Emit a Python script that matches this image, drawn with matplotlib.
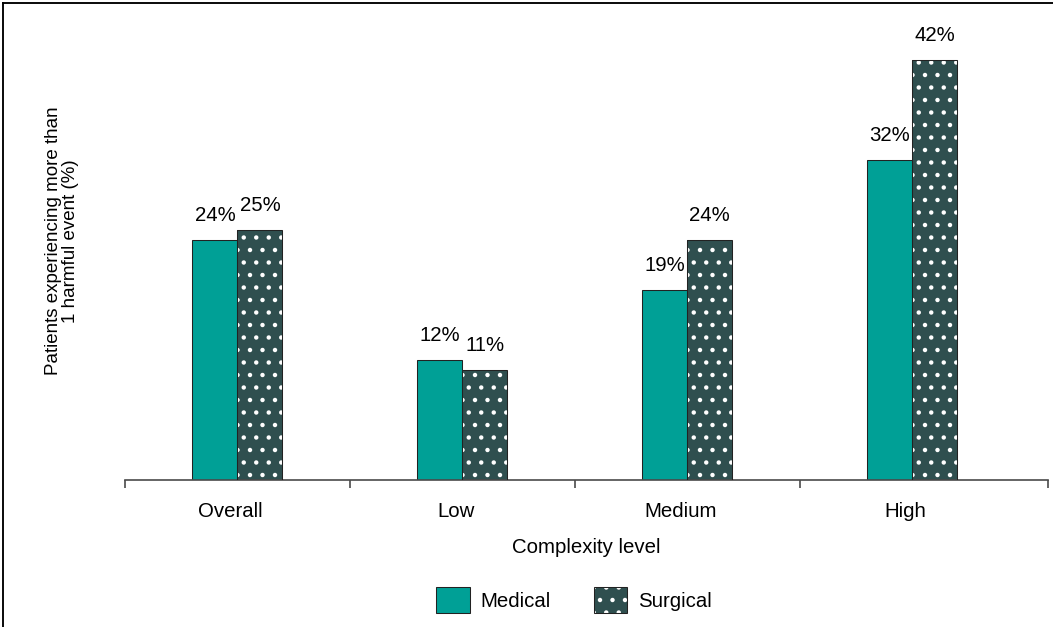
import matplotlib.pyplot as plt
from matplotlib.patches import Patch
from matplotlib.legend_handler import HandlerTuple
from matplotlib.lines import Line2D

plt.rcParams['font.family'] = ['Liberation Sans', 'DejaVu Sans']
plt.rcParams['hatch.linewidth'] = 1.8

# Data
categories = ['Overall', 'Low', 'Medium', 'High']
medical = [24, 12, 19, 32]
surgical = [25, 11, 24, 42]
series_names = ['Medical', 'Surgical']

teal = '#00A096'
slate = '#2F4F4F'
edge = '#222222'
axis_grey = '#4a4a4a'

DPI = 75
W, H = 1053, 627
fig = plt.figure(figsize=(W / DPI, H / DPI), dpi=DPI)
ax = fig.add_axes([125 / W, 147 / H, (1048 - 125) / W, (617 - 147) / H])

x = list(range(len(categories)))
bw = 0.2
xm = [i - bw / 2 for i in x]
xs = [i + bw / 2 for i in x]

ax.bar(xm, medical, width=bw, color=teal, edgecolor=edge, linewidth=1.0, zorder=2)
# dotted fill first, then outline on top so the dots stay white
ax.bar(xs, surgical, width=bw, color=slate, edgecolor='white', hatch='.', linewidth=0, zorder=2)
ax.bar(xs, surgical, width=bw, fill=False, edgecolor=edge, linewidth=1.0, zorder=3)

fs = 19.5
for xi, v in zip(xm, medical):
    ax.annotate(f'{v}%', (xi, v), xytext=(0, 14), textcoords='offset points',
                ha='center', va='bottom', fontsize=fs)
for xi, v in zip(xs, surgical):
    ax.annotate(f'{v}%', (xi, v), xytext=(0, 14), textcoords='offset points',
                ha='center', va='bottom', fontsize=fs)

right = (1048 - 237) / 225
ax.set_xlim(-0.5, right)
ax.set_ylim(0, 47)

for s in ['top', 'right', 'left']:
    ax.spines[s].set_visible(False)
ax.spines['bottom'].set_color(axis_grey)
ax.spines['bottom'].set_linewidth(1.6)
ax.set_yticks([])

ax.set_xticks([i - 0.03 for i in x])
ax.set_xticklabels(categories, fontsize=fs)
ax.tick_params(axis='x', which='major', length=0, pad=21)
ax.set_xticks([-0.5, 0.5, 1.5, 2.5, right], minor=True)
ax.tick_params(axis='x', which='minor', length=8, width=1.6, color=axis_grey, direction='out')

ax.set_xlabel('Complexity level', fontsize=fs, labelpad=16)
fig.text(62 / W, 1 - 241 / H, 'Patients experiencing more than\n1 harmful event (%)',
         rotation=90, ha='center', va='center', fontsize=18, linespacing=1.05)

# Legend
h_med = Patch(facecolor=teal, edgecolor=edge, linewidth=1.0)
h_sur = (Patch(facecolor=slate, edgecolor='white', hatch='.', linewidth=0),
         Patch(fill=False, edgecolor=edge, linewidth=1.0))
fig.legend([h_med, h_sur], series_names, loc='center', ncol=2,
           bbox_to_anchor=(574 / W, 1 - 600 / H), frameon=False, fontsize=fs,
           handlelength=1.65, handleheight=1.65, handletextpad=0.55, columnspacing=2.1,
           handler_map={tuple: HandlerTuple(ndivide=1, pad=0)})

# frame lines along the left and top edges
fig.add_artist(Line2D([3 / W, 3 / W], [0, 1 - 3 / H], transform=fig.transFigure, color='black', lw=1.8))
fig.add_artist(Line2D([3 / W, 1], [1 - 3 / H, 1 - 3 / H], transform=fig.transFigure, color='black', lw=1.8))

fig.savefig('out.png', dpi=DPI)
